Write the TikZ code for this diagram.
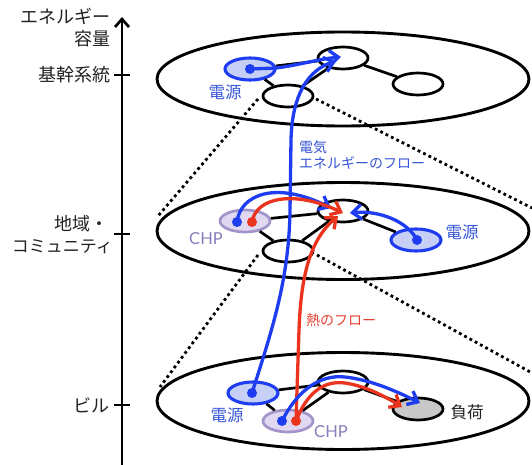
\documentclass[tikz,border=0pt]{standalone}
\usepackage{fontspec}
\setmainfont{Noto Sans CJK JP}
\newfontfamily\latinsans{Lato}
\usetikzlibrary{shapes.geometric,arrows.meta}
\definecolor{flowblue}{RGB}{30,60,240}
\definecolor{labelblue}{RGB}{55,85,215}
\definecolor{flowred}{RGB}{235,52,30}
\definecolor{labelred}{RGB}{228,64,48}
\definecolor{srcfill}{RGB}{198,208,246}
\definecolor{chpfill}{RGB}{224,216,240}
\definecolor{chpdraw}{RGB}{162,148,202}
\definecolor{chptext}{RGB}{138,124,186}
\definecolor{loadfill}{RGB}{200,200,200}
\definecolor{axisgray}{RGB}{34,34,34}
\begin{document}
\begin{tikzpicture}[x=1pt,y=-1pt,
  big/.style={ellipse, draw, line width=2.9pt, minimum width=372pt, minimum height=94pt, inner sep=0pt},
  small/.style={ellipse, draw, line width=2.7pt, minimum width=50pt, minimum height=22pt, inner sep=0pt, fill=white},
  srcnode/.style={small, draw=flowblue, fill=srcfill, line width=3.1pt},
  chpnode/.style={small, draw=chpdraw, fill=chpfill},
  loadnode/.style={small, fill=loadfill},
  bdot/.style={circle, fill=flowblue, minimum size=10pt, inner sep=0pt},
  rdot/.style={circle, fill=flowred, minimum size=10pt, inner sep=0pt},
  link/.style={line width=2.7pt},
  dotline/.style={line width=2.8pt, dash pattern=on 2.8pt off 3.2pt},
  bflow/.style={draw=flowblue, line width=3.3pt, -{Straight Barb[length=9pt,width=15pt]}},
  rflow/.style={draw=flowred, line width=3.3pt, -{Straight Barb[length=9pt,width=15pt]}},
  axislab/.style={font=\fontsize{18}{20}\selectfont, text=axisgray, anchor=east, inner sep=0pt},
  srclab/.style={font=\fontsize{16.5}{18}\selectfont, text=labelblue, inner sep=0pt},
  chplab/.style={font=\latinsans\fontsize{16.5}{18}\selectfont, text=chptext, inner sep=0pt},
]
\useasboundingbox (0,0) rectangle (532,465);

% axis
\coordinate (axb) at (122,466);
\coordinate (axt) at (122,17);
\draw[line width=2.7pt, -{Straight Barb[length=8pt,width=14pt]}] (axb) -- (axt);
\coordinate (k1l) at (114,75);  \coordinate (k1r) at (130,75);
\coordinate (k2l) at (114,234); \coordinate (k2r) at (130,234);
\coordinate (k3l) at (114,405); \coordinate (k3r) at (130,405);
\draw[line width=2.7pt] (k1l) -- (k1r);
\draw[line width=2.7pt] (k2l) -- (k2r);
\draw[line width=2.7pt] (k3l) -- (k3r);

\node[axislab] (l1) at (111,16) {エネルギー};
\node[axislab] (l2) at (111,39) {容量};
\node[axislab] (l3) at (111,75) {基幹系統};
\node[axislab] (l4) at (109,224) {地域・};
\node[axislab, font=\fontsize{17}{20}\selectfont] (l5) at (113,247) {コミュニティ};
\node[axislab] (l6) at (110,405) {ビル};

% big ellipses
\node[big] (top) at (343,79) {};
\node[big, minimum height=97pt] (mid) at (343,231) {};
\node[big, minimum height=97pt] (bot) at (343,401) {};

% dotted lines
\coordinate (d1a) at (258,99);  \coordinate (d1b) at (158,216);
\coordinate (d2a) at (316,99);  \coordinate (d2b) at (532,208);
\coordinate (d3a) at (258,255); \coordinate (d3b) at (160,387);
\coordinate (d4a) at (317,255); \coordinate (d4b) at (532,373);
\draw[dotline] (d1a) -- (d1b);
\draw[dotline] (d2a) -- (d2b);
\draw[dotline] (d3a) -- (d3b);
\draw[dotline] (d4a) -- (d4b);

% top level
\node[srcnode] (tsrc) at (250,69) {};
\node[small] (tA) at (343,58) {};
\node[small] (tB) at (288,96) {};
\node[small] (tC) at (418,84) {};
\draw[link] (tsrc) -- (tA);
\draw[link] (tsrc) -- (tB);
\draw[link] (tB) -- (tA);
\draw[link] (tA) -- (tC);

% middle level
\node[chpnode] (mchp) at (245,221) {};
\node[small] (mA) at (343,211) {};
\node[small] (mB) at (288,251) {};
\node[srcnode] (msrc) at (416,240) {};
\draw[link] (mchp) -- (mA);
\draw[link] (mchp) -- (mB);
\draw[link] (mB) -- (mA);
\draw[link] (mA) -- (msrc);

% bottom level
\node[srcnode] (bsrc) at (253,393) {};
\node[small] (bA) at (343,382) {};
\node[chpnode] (bchp) at (288,421) {};
\node[loadnode] (bload) at (418,409) {};
\draw[link] (bsrc) -- (bA);
\draw[link] (bsrc) -- (bchp);
\draw[link] (bchp) -- (bA);
\draw[link] (bA) -- (bload);

% dots
\node[bdot] (tbd) at (250,69) {};
\node[bdot] (mbd) at (237,222) {};
\node[rdot] (mrd) at (252,222) {};
\node[bdot] (msd) at (417,240) {};
\node[bdot] (bbd) at (252,393) {};
\node[bdot] (bcb) at (282,421) {};
\node[rdot] (bcr) at (296,421) {};

% flow end points
\coordinate (t1end) at (341,57);
\coordinate (t2end) at (336,61);
\coordinate (m1end) at (331,208);
\coordinate (m2end) at (343,213);
\coordinate (m3end) at (350,213);
\coordinate (m4end) at (338,216);
\coordinate (b1end) at (420,403);
\coordinate (b2end) at (402,407);

% flows
\draw[bflow] (tbd.center) -- (276,68) .. controls (300,65) and (318,59) .. (t1end);
\draw[bflow] (bbd.center) .. controls (272,330) and (289,280) .. (290,210) -- (291,140) .. controls (292,95) and (308,70) .. (t2end);
\draw[bflow] (mbd.center) .. controls (240,195) and (275,180) .. (m1end);
\draw[rflow] (mrd.center) .. controls (256,197) and (295,190) .. (m2end);
\draw[bflow] (msd.center) .. controls (408,222) and (380,210) .. (m3end);
\draw[rflow] (bcr.center) -- (299,330) .. controls (301,275) and (310,240) .. (m4end);
\draw[bflow] (bcb.center) .. controls (296,393) and (318,374) .. (345,377) .. controls (372,380) and (398,392) .. (b1end);
\draw[rflow] (bcr.center) .. controls (306,395) and (322,380) .. (345,383) .. controls (366,386) and (386,397) .. (b2end);

% labels
\node[srclab] (s1) at (225,92) {電源};
\node[srclab] (s2) at (462,232) {電源};
\node[srclab] (s3) at (227,415) {電源};
\node[chplab] (c1) at (206,239) {CHP};
\node[chplab] (c2) at (331,432) {CHP};
\node[font=\fontsize{16.5}{18}\selectfont, text=axisgray, inner sep=0pt] (ld) at (467,412) {負荷};
\node[font=\fontsize{14}{15.5}\selectfont, text=labelblue, align=left, anchor=north west, inner sep=0pt] (ef) at (299,141) {電気\\エネルギーのフロー};
\node[font=\fontsize{14}{15.5}\selectfont, text=labelred, anchor=west, inner sep=0pt] (hf) at (306,320) {熱のフロー};
\end{tikzpicture}
\end{document}
